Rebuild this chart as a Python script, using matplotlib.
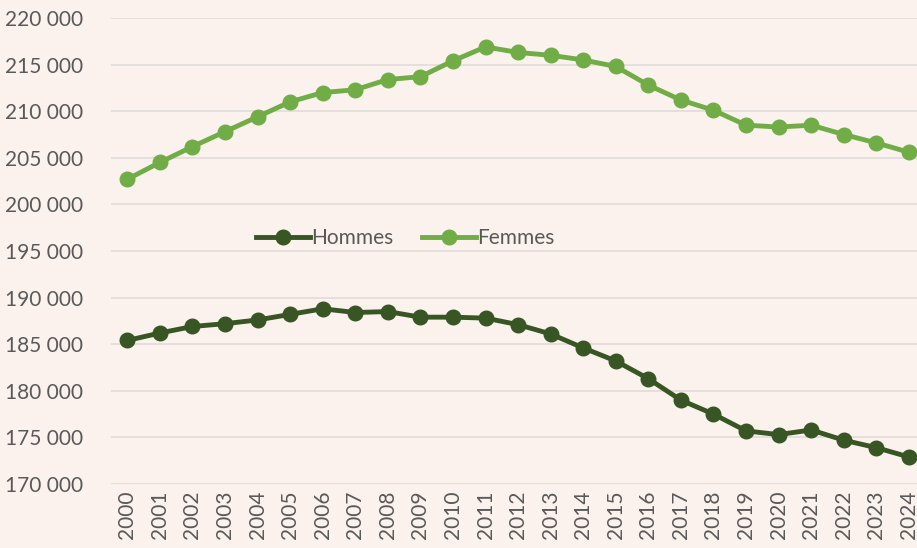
import matplotlib.pyplot as plt
from matplotlib.ticker import FuncFormatter

annees = [str(a) for a in range(2000, 2025)]
hommes = [185400, 186200, 186900, 187200, 187600, 188200, 188800, 188400, 188500, 187900,
          187900, 187800, 187100, 186100, 184600, 183200, 181300, 179000, 177500, 175700,
          175300, 175800, 174700, 173900, 172900]
femmes = [202700, 204500, 206200, 207800, 209400, 211000, 212000, 212300, 213400, 213700,
          215400, 216900, 216300, 216000, 215500, 214800, 212800, 211200, 210100, 208500,
          208300, 208500, 207500, 206600, 205600]

fond = '#FBF2ED'
gris = '#595959'
plt.rcParams['font.family'] = ['Lato', 'DejaVu Sans']

fig = plt.figure(figsize=(9.17, 5.48), dpi=100, facecolor=fond)
ax = fig.add_axes([111/917, 64/548, 1 - 111/917, 466/548])
ax.set_facecolor(fond)

x = range(len(annees))
ax.plot(x, hommes, color='#375623', linewidth=3.5, marker='o', markersize=10.5, label='Hommes', zorder=3)
ax.plot(x, femmes, color='#70AD47', linewidth=3.5, marker='o', markersize=10.5, label='Femmes', zorder=3)

ax.set_ylim(170000, 220000)
ax.set_yticks(range(170000, 220001, 5000))
ax.yaxis.set_major_formatter(FuncFormatter(lambda v, p: f'{int(v):,}'.replace(',', ' ')))
ax.set_xlim(-0.5, 24.25)
ax.set_xticks(list(x))
ax.set_xticklabels(annees, rotation=90)
ax.grid(axis='y', color='#E0DCDA', linewidth=1.2)
ax.set_axisbelow(True)
for s in ax.spines.values():
    s.set_visible(False)
ax.tick_params(length=0, labelsize=15, colors=gris, pad=5)
ax.tick_params(axis='y', pad=20)

ax.legend(loc='center', bbox_to_anchor=(0.365, 0.527), ncol=2, frameon=False,
          fontsize=15, labelcolor=gris, handlelength=2.6, columnspacing=1.4, handletextpad=0.05)

fig.savefig('out.png', dpi=100, facecolor=fond)
